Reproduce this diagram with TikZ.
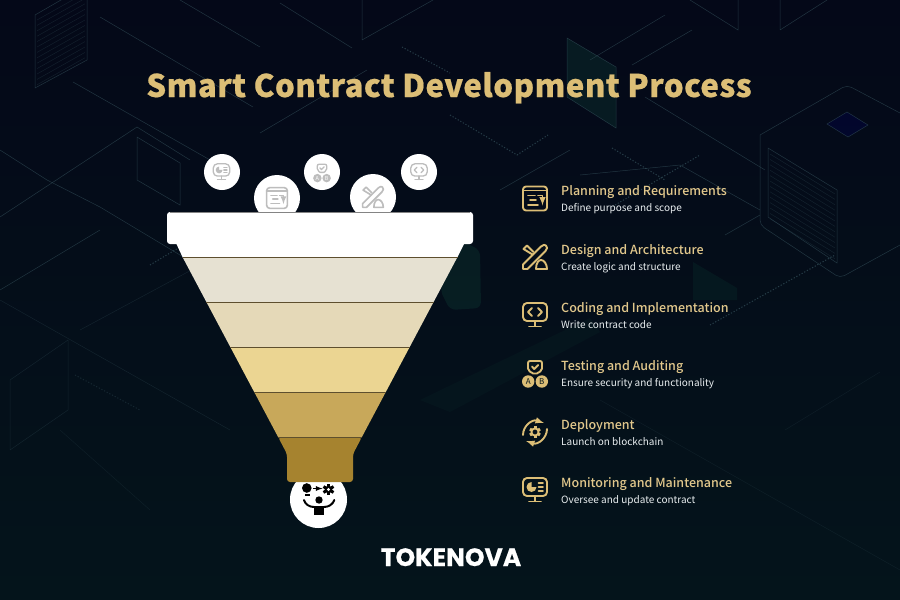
\documentclass[tikz,border=0pt]{standalone}
\usepackage{fontspec}
\usepackage{xcolor}
\usetikzlibrary{
	calc,          %计算
	arrows.meta    %箭头
}
\newfontfamily\headfont{Noto Sans CJK SC}[UprightFont=* Medium]
\newfontfamily\subfont{Noto Sans CJK SC}
\newfontfamily\titlefont{Noto Sans CJK SC Black}[LetterSpace=1.5,FakeBold=.6]
\newfontfamily\logofont{Poppins}[UprightFont=* Bold,FakeBold=.5]
\definecolor{bgtop}{HTML}{040818}
\definecolor{bgbottom}{HTML}{04141B}
\definecolor{gold}{HTML}{DCBE76}
\definecolor{itemgold}{HTML}{E2C88C}
\definecolor{itemwhite}{HTML}{E9EEF0}
\definecolor{icongray}{HTML}{BDBDBD}
\definecolor{gridline}{HTML}{35525C}
\definecolor{gridgreen}{HTML}{0F4A3C}
\definecolor{bandone}{HTML}{E6E1D2}
\definecolor{bandtwo}{HTML}{E5D9B8}
\definecolor{bandthree}{HTML}{EBD592}
\definecolor{bandfour}{HTML}{C8A85A}
\definecolor{bandfive}{HTML}{A6832F}
\definecolor{bandline}{HTML}{5E4F2E}
\tikzset{
	every picture/.style={>=latex},
	grid/.style={draw=gridline,line width=.5pt,opacity=.6},
	griddot/.style={draw=gridline,line width=1pt,dash pattern=on 1.2pt off 1.8pt,opacity=.7},
	bandsep/.style={draw=bandline,line width=.7pt},
	disc/.style={fill=white,draw=none},
	headtext/.style={anchor=base west,font=\headfont\fontsize{12.5}{15}\selectfont,text=itemgold,inner sep=0pt},
	subtext/.style={anchor=base west,font=\subfont\fontsize{10}{12}\selectfont,text=itemwhite,inner sep=0pt},
	listicon/.style={color=gold,line width=1.9pt,line cap=round,line join=round},
	bigicon/.style={color=icongray,scale=.86,line width=1.6pt,line cap=round,line join=round},
	smallicon/.style={color=icongray,scale=.68,line width=1.3pt,line cap=round,line join=round},
	gearteeth/.pic={
		\foreach \a in {0,60,...,300}
			\fill[rotate=\a] (-1.5,-5.8) rectangle (1.5,-3);
	},
	planicon/.pic={
		\draw[rounded corners=3] (-12,-12) rectangle (12,12);
		\draw (-12,-8) -- (12,-8);
		\draw (-7,-3) -- (0,-3);
		\draw (-5,1.5) -- (1,1.5);
		\draw (-7,6.5) -- (3,6.5);
		\draw[->] (3,-3) -- (7.5,-3) -- (7.5,7);
	},
	designicon/.pic={
		\draw (-12,12) -- (-12,7.5) -- (6,-10.5) .. controls (8,-12.5) and (10,-12.5) .. (11,-11.5) .. controls (12.5,-10) and (12.5,-8) .. (10.5,-6) -- (-7.5,12) -- cycle;
		\draw (-2.5,-2.5) -- (-11.5,-8) -- (-8,-11.5) -- (-1.5,-5);
		\draw (1,12) .. controls (1,5.5) and (4,3) .. (6,3) .. controls (9,3) and (12,7) .. (12,12) -- cycle;
	},
	codeicon/.pic={
		\draw[rounded corners=4] (-12,-12) rectangle (12,6);
		\draw (0,6) -- (0,11);
		\draw (-6,11.5) -- (6,11.5);
		\draw (-3,-7) -- (-7,-3) -- (-3,1);
		\draw (3,-7) -- (7,-3) -- (3,1);
	},
	monitoricon/.pic={
		\draw[rounded corners=4] (-12,-12) rectangle (12,6);
		\draw (0,6) -- (0,11);
		\draw (-6,11.5) -- (6,11.5);
		\fill (-3.5,-3) -- (-3.5,-8) arc [start angle=-90,delta angle=-270,radius=5] -- cycle;
		\draw (3.5,-7) -- (8,-7);
		\draw (3.5,-3) -- (8,-3);
		\draw (3.5,1) -- (8,1);
	},
	deployicon/.pic={
		\draw[->] (-12,3) .. controls (-12,-6) and (-3,-13) .. (9,-9);
		\draw[->] (12,-3) .. controls (12,6) and (3,13) .. (-9,9);
		\draw (0,0) circle [radius=3.6];
		\pic {gearteeth};
	},
	testicon/.style={
		/tikz/pics/testicon/.style={code={
			\draw[rounded corners=2] (-7,-13) -- (7,-13) -- (7,-3.5) -- (0,0.5) -- (-7,-3.5) -- cycle;
			\draw (-3,-7.5) -- (-.8,-5) -- (3.2,-9);
			\fill (-6.8,7.5) circle [radius=6.2];
			\fill (6.8,7.5) circle [radius=6.2];
			\node[text=#1,font=\subfont\fontsize{8}{8}\selectfont,inner sep=0pt,transform shape] (letterA) at (-6.8,7.5) {A};
			\node[text=#1,font=\subfont\fontsize{8}{8}\selectfont,inner sep=0pt,transform shape] (letterB) at (6.8,7.5) {B};
		}}
	},
	testicon=black
}
\begin{document}
\begin{tikzpicture}[x=1pt,y=-1pt]
\useasboundingbox (0,0) rectangle (900,600);
\fill[top color=bgtop,bottom color=bgbottom] (0,0) rectangle (900,600);
\clip (0,0) rectangle (900,600);
% chips
\fill[gridgreen,opacity=.28] (567,38) -- (616,67) -- (616,128) -- (567,97) -- cycle;
\fill[gridgreen,opacity=.28,rounded corners=6] (460,240) -- (480,250) -- (481,308) -- (450,310) -- (440,290) -- cycle;
\fill[gridgreen,opacity=.1] (420,400) -- (590,318) -- (600,332) -- (450,412) -- cycle;
\fill[gridgreen,opacity=.18] (693,262) -- (737,288) -- (737,300) -- (693,300) -- cycle;
\fill[blue!35!black,opacity=.3] (827,124) -- (847,112) -- (868,125) -- (848,137) -- cycle;
\draw[grid] (827,124) -- (847,112) -- (868,125) -- (848,137) -- cycle;
\draw[grid] (35,15) -- (87,-15) -- (87,60) -- (35,88) -- cycle;
\draw[grid] (137,137) -- (180,163) -- (180,205) -- (137,180) -- cycle;
\draw[grid] (567,38) -- (616,67) -- (616,128) -- (567,97) -- cycle;
\draw[grid] (768,148) -- (837,190) -- (837,263) -- (768,217) -- cycle;
\draw[grid,rounded corners=5] (760,135) -- (847,85) -- (900,113);
\draw[grid,rounded corners=5] (760,135) -- (760,225) -- (840,278) -- (900,245);
\draw[grid,opacity=.3] (10,380) -- (68,340) -- (68,410) -- (10,450) -- cycle;
\foreach \n in {0,...,12}{
	\draw[grid,opacity=.3] (37,{20+5.4*\n}) -- (85,{-7+5.4*\n});
	\draw[grid,opacity=.3] (770,{154+5.4*\n}) -- (835,{194+5.4*\n});
}
% lines
\draw[grid] (100,17) -- (253,107);
\draw[grid] (180,0) -- (260,47);
\draw[grid] (73,82) -- (240,177);
\draw[grid] (0,150) -- (47,180) -- (100,207) -- (200,267);
\draw[grid] (0,217) -- (137,127) -- (190,160);
\draw[grid] (0,290) -- (100,230);
\draw[grid] (260,133) -- (367,70);
\draw[grid] (280,3) -- (352,48);
\draw[grid] (362,40) -- (362,0) (362,40) -- (433,0);
\draw[grid] (690,0) -- (738,30) -- (738,0);
\draw[grid] (780,30) -- (780,0) (780,30) -- (827,0);
\draw[grid] (590,60) -- (665,15);
\draw[grid] (632,65) -- (692,30);
\draw[grid] (645,97) -- (765,170);
\draw[grid] (500,190) -- (570,150);
\draw[grid] (580,175) -- (680,165);
\draw[grid] (680,165) -- (760,210);
\draw[grid] (725,235) -- (760,215);
\draw[grid,opacity=.3] (0,300) -- (230,430);
\draw[grid,opacity=.3] (80,330) -- (210,260);
\draw[grid,opacity=.2] (60,430) -- (150,510);
\draw[grid,opacity=.2] (600,400) -- (900,570);
\draw[grid,opacity=.2] (785,430) -- (880,372);
\draw[griddot] (402,47) -- (450,73);
\draw[griddot] (450,115) -- (517,155) -- (548,135);
\draw[griddot] (612,148) -- (665,180);
\draw[griddot] (610,208) -- (700,155);
\draw[griddot] (710,325) -- (835,255);
\draw[griddot,opacity=.35] (75,375) -- (140,410);
\draw[griddot] (150,265) -- (180,247);
% small icons and funnel
\fill[disc] (222,172) circle [radius=18];
\fill[disc] (277,198) circle [radius=23];
\fill[disc] (322,172) circle [radius=18];
\fill[disc] (373,197) circle [radius=23];
\fill[disc] (419,172) circle [radius=18];
\fill[disc] (318.5,499.5) circle [radius=28.5];
\pic[smallicon] at (221.5,172) {monitoricon};
\pic[bigicon] at (277,198) {planicon};
\pic[smallicon,testicon=white] at (322,173) {testicon};
\pic[bigicon] at (373,197) {designicon};
\pic[smallicon] at (419,172) {codeicon};
\fill[disc,rounded corners=3] (167,212) rectangle (473,244);
\fill[disc] (176,243) -- (464.5,243) -- (457.5,257) -- (182.5,257) -- cycle;
\draw[icongray!70!black,line width=.5pt] (170,212) -- (470,212);
\fill[bandone] (182.5,257) -- (457.5,257) -- (433.6,302) -- (206.4,302) -- cycle;
\fill[bandtwo] (206.4,302) -- (433.6,302) -- (409.7,347) -- (230.3,347) -- cycle;
\fill[bandthree] (230.3,347) -- (409.7,347) -- (385.8,392) -- (254.2,392) -- cycle;
\fill[bandfour] (254.2,392) -- (385.8,392) -- (361.9,437) -- (278.1,437) -- cycle;
\fill[bandfive,rounded corners=3] (278.1,437) -- (361.9,437) -- (353,454) -- (353,482) -- (287,482) -- (287,454) -- cycle;
\foreach \ya/\xa/\xb in {257/182.5/457.5,302/206.4/433.6,347/230.3/409.7,392/254.2/385.8,437/278.1/361.9}
	\draw[bandsep] (\xa,\ya) -- (\xb,\ya);
% person below the funnel
\fill (306.8,488) circle [radius=4.8];
\fill (304.5,494) rectangle (309.5,495.5);
\draw[->,line width=1.3pt] (313,488.5) -- (322.5,488.5);
\fill (328.5,489.5) circle [radius=3.8];
\pic at (328.5,489.5) {gearteeth};
\fill[white] (328.5,489.5) circle [radius=1.6];
\fill (319,500) circle [radius=3.7];
\fill (313.5,506) rectangle (324.3,515);
\draw[line width=2pt,line cap=round] (304,500) .. controls (305,504) and (309,507) .. (314,507);
\draw[line width=2pt,line cap=round] (334.3,500) .. controls (333,504) and (329,507) .. (324,507);
% title
\node[text=gold,inner sep=0pt,anchor=base,font={\titlefont\fontsize{31.2}{36}\selectfont}] (title) at (449,97) {Smart Contract Development Process};
% list
\pic[listicon] at (535,198.5) {planicon};
\pic[listicon] at (535,257) {designicon};
\pic[listicon] at (535,315) {codeicon};
\pic[listicon,testicon=bgbottom] at (535,374) {testicon};
\pic[listicon] at (535,432) {deployicon};
\pic[listicon] at (535,490) {monitoricon};
\foreach \i/\ya/\head/\sub in {
	1/195/Planning and Requirements/Define purpose and scope,
	2/254/Design and Architecture/Create logic and structure,
	3/312/Coding and Implementation/Write contract code,
	4/370/Testing and Auditing/Ensure security and functionality,
	5/429/Deployment/Launch on blockchain,
	6/487/Monitoring and Maintenance/Oversee and update contract}{
	\node[headtext] (head\i) at (561,\ya) {\head};
	\node[subtext] (sub\i) at (561,\ya+16) {\sub};
}
% logo
\node[text=white,inner sep=0pt,anchor=base,font={\logofont\fontsize{25}{28}\selectfont}] (logo) at (451,566) {TOKENOVA};
\end{tikzpicture}
\end{document}
